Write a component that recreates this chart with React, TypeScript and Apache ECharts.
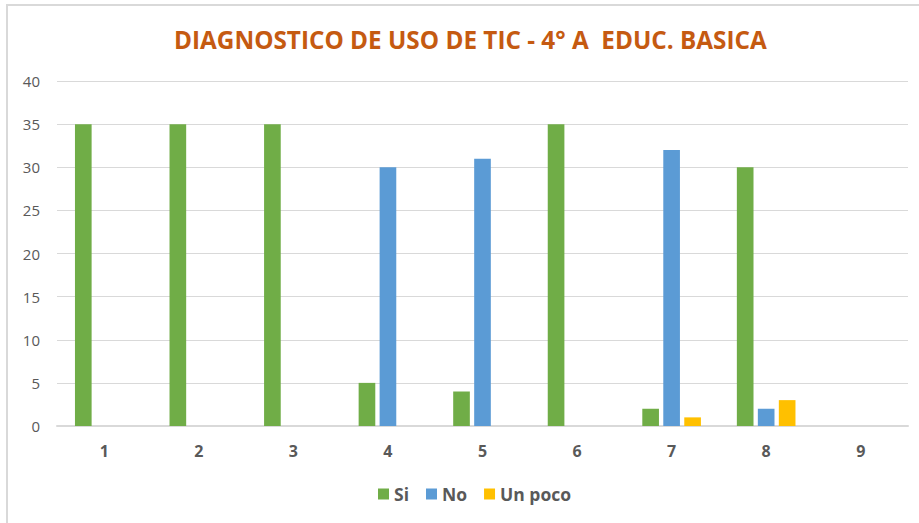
import React, { useEffect, useRef } from "react";
import * as echarts from "echarts";

const categories = ["1", "2", "3", "4", "5", "6", "7", "8", "9"];
const siValues = [35, 35, 35, 5, 4, 35, 2, 30, 0];
const noValues = [0, 0, 0, 30, 31, 0, 32, 2, 0];
const unPocoValues = [0, 0, 0, 0, 0, 0, 1, 3, 0];
const seriesNames = ["Si", "No", "Un poco"];
const titleText = "DIAGNOSTICO DE USO DE TIC - 4° A  EDUC. BASICA";

export default function App() {
  const ref = useRef<HTMLDivElement>(null);
  useEffect(() => {
    if (!ref.current) return;
    const chart = echarts.init(ref.current, null, { renderer: "svg" });
    const font = "'Open Sans', 'Liberation Sans', sans-serif";
    chart.setOption({
      animation: false,
      backgroundColor: "#ffffff",
      title: {
        text: titleText,
        left: 169,
        top: 22,
        textStyle: {
          color: "#C55A11",
          fontSize: 24.3,
          fontWeight: "bold",
          fontFamily: font,
        },
      },
      graphic: [
        {
          type: "rect",
          shape: { x: 7, y: 5, width: 930, height: 540 },
          style: { fill: "none", stroke: "#d9d9d9", lineWidth: 2 },
          silent: true,
        },
      ],
      legend: {
        data: seriesNames,
        bottom: 15,
        left: 373,
        itemWidth: 11,
        itemHeight: 11,
        itemGap: 17,
        icon: "rect",
        textStyle: { color: "#595959", fontSize: 17.5, fontWeight: "bold", fontFamily: font },
      },
      grid: { left: 57, right: 11, top: 81, bottom: 97, containLabel: false },
      xAxis: {
        type: "category",
        data: categories,
        axisLine: { lineStyle: { color: "#d9d9d9", width: 2 } },
        axisTick: { show: false },
        axisLabel: { color: "#595959", fontSize: 16, fontWeight: "bold", fontFamily: font, margin: 17 },
      },
      yAxis: {
        type: "value",
        min: 0,
        max: 40,
        interval: 5,
        axisLine: { show: false },
        axisTick: { show: false },
        splitLine: { lineStyle: { color: "#d9d9d9", width: 1 } },
        axisLabel: { color: "#595959", fontSize: 15, fontFamily: font, margin: 17 },
      },
      series: [
        { name: "Si", type: "bar", data: siValues, itemStyle: { color: "#70AD47" }, barGap: "26%", barCategoryGap: "38%" },
        { name: "No", type: "bar", data: noValues, itemStyle: { color: "#5B9BD5" } },
        { name: "Un poco", type: "bar", data: unPocoValues, itemStyle: { color: "#FFC000" } },
      ],
    });
    return () => chart.dispose();
  }, []);
  return <div ref={ref} style={{ width: 919, height: 523, position: "absolute", left: 0, top: 0 }} />;
}
